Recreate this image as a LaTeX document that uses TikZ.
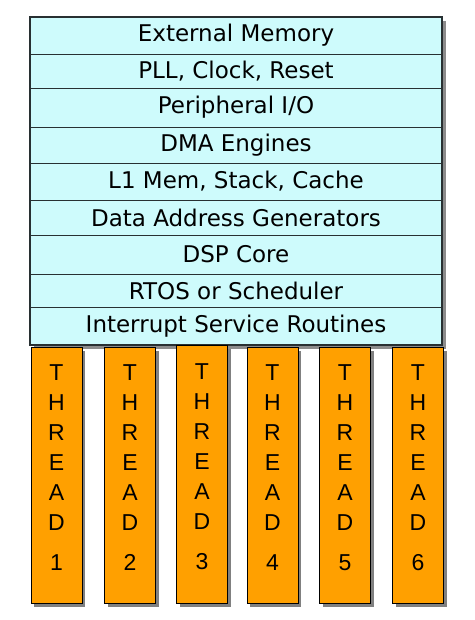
\documentclass[tikz,border=0pt]{standalone}
\usepackage{xcolor}
\usepackage{fontspec}
\setmainfont{DejaVu Sans}
\newfontfamily\threadfont{Liberation Sans}
\usepackage{tikz}
\usetikzlibrary{shadows}
\definecolor{rowcyan}{RGB}{206,251,252}
\definecolor{threadorange}{RGB}{255,160,0}
\definecolor{rowline}{RGB}{40,48,50}
\newcommand{\threadtext}[1]{\raisebox{6pt}[\height][\depth]{\begin{tabular}{c}T\\H\\R\\E\\A\\D\\[10pt]#1\end{tabular}}}
\tikzset{
  layer/.style={draw=rowline, line width=0.9pt, fill=rowcyan, minimum width=412pt, inner sep=0pt, outer sep=0pt, font=\fontsize{23}{26}\selectfont},
  thread/.style={draw=black, line width=1pt, fill=threadorange, minimum width=51pt, inner sep=0pt, outer sep=0pt, font=\threadfont\fontsize{23}{30}\selectfont,
    drop shadow={shadow xshift=3pt, shadow yshift=-3pt, fill=black!50, opacity=1}},
}

\begin{document}
\begin{tikzpicture}[x=1pt,y=1pt,yscale=-1,xscale=1]
\useasboundingbox (0,0) rectangle (474,620);

%Shape: Stack shadow
\fill [black!45] (34,21) rectangle (446,349);
%Shape: Layers
\node [layer, minimum height=37pt] (extmem) at (236,35.5) {External Memory};
\node [layer, minimum height=34pt] (pll) at (236,71) {PLL, Clock, Reset};
\node [layer, minimum height=39pt] (perio) at (236,107.5) {Peripheral I/O};
\node [layer, minimum height=36pt] (dma) at (236,145) {DMA Engines};
\node [layer, minimum height=37pt] (lmem) at (236,181.5) {L1 Mem, Stack, Cache};
\node [layer, minimum height=35pt] (dag) at (236,217.5) {Data Address Generators};
\node [layer, minimum height=39pt] (core) at (236,254.5) {DSP Core};
\node [layer, minimum height=33pt] (rtos) at (236,290.5) {RTOS or Scheduler};
\node [layer, minimum height=38pt] (isr) at (236,326) {Interrupt Service Routines};
%Shape: Stack frame
\draw [line width=1.5pt, rowline] (extmem.north west) rectangle (isr.south east);

%Shape: Threads
\node [thread, minimum height=256pt] (thA) at (56.5,475.5) {\threadtext{1}};
\node [thread, minimum height=256pt] (thB) at (130,475.5) {\threadtext{2}};
\node [thread, minimum height=258pt] (thC) at (202,474.5) {\threadtext{3}};
\node [thread, minimum height=256pt] (thD) at (272.5,475.5) {\threadtext{4}};
\node [thread, minimum height=256pt] (thE) at (345,475.5) {\threadtext{5}};
\node [thread, minimum height=256pt] (thF) at (418,475.5) {\threadtext{6}};

\end{tikzpicture}
\end{document}
